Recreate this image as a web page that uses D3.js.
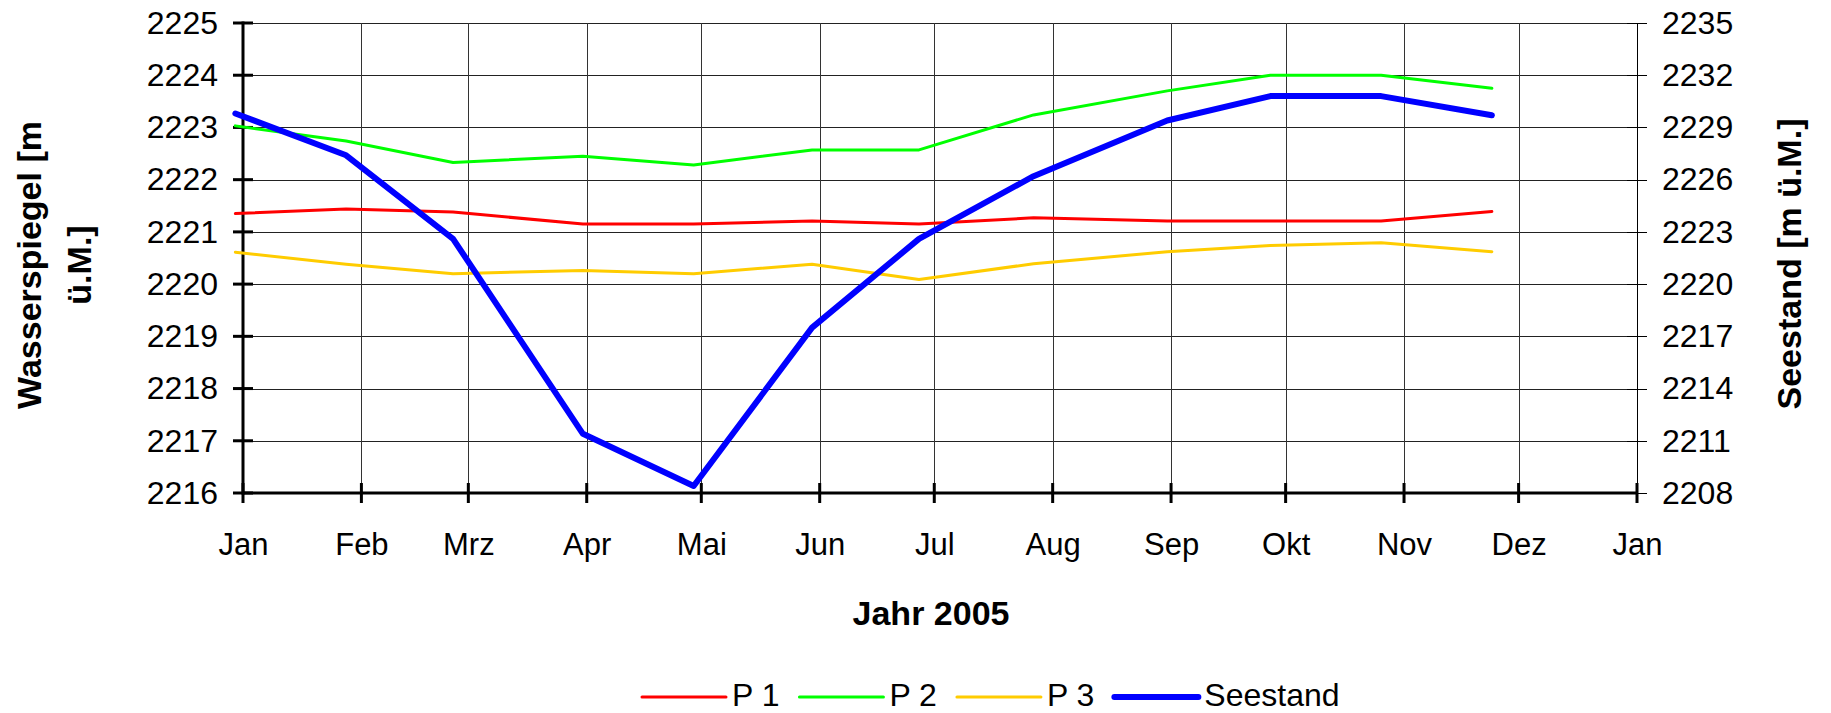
<!DOCTYPE html>
<html>
<head>
<meta charset="utf-8">
<script src="https://cdn.jsdelivr.net/npm/d3@7"></script>
<style>
  body { margin: 0; background: #fff; }
  svg { display: block; font-family: "Liberation Sans", Arial, sans-serif; }
</style>
</head>
<body>
<svg id="svg" width="1831" height="713"></svg>
<script>
// Messdaten 2005
const dates = ['2004-12-30', '2005-01-28', '2005-02-25', '2005-03-31', '2005-04-29', '2005-05-30',
  '2005-06-27', '2005-07-27', '2005-08-31', '2005-09-27', '2005-10-26', '2005-11-24'];
const p1 = [2221.35, 2221.44, 2221.38, 2221.15, 2221.15, 2221.21, 2221.15, 2221.27, 2221.21, 2221.21, 2221.21, 2221.39];
const p2 = [2223.03, 2222.74, 2222.33, 2222.45, 2222.28, 2222.57, 2222.57, 2223.24, 2223.7, 2224.0, 2224.0, 2223.75];
const p3 = [2220.61, 2220.38, 2220.2, 2220.26, 2220.2, 2220.38, 2220.09, 2220.39, 2220.62, 2220.74, 2220.79, 2220.62];
const seestand = [2229.8, 2227.4, 2222.6, 2211.4, 2208.4, 2217.5, 2222.6, 2226.2, 2229.4, 2230.8, 2230.8, 2229.7];

const monthNames = ['Jan', 'Feb', 'Mrz', 'Apr', 'Mai', 'Jun', 'Jul', 'Aug', 'Sep', 'Okt', 'Nov', 'Dez'];
const leftTicks = [2216, 2217, 2218, 2219, 2220, 2221, 2222, 2223, 2224, 2225];
const rightTicks = [2208, 2211, 2214, 2217, 2220, 2223, 2226, 2229, 2232, 2235];

const series = [
  { name: 'P 1', values: p1, color: '#ff0000', width: 3, axis: 'left' },
  { name: 'P 2', values: p2, color: '#00ff00', width: 3, axis: 'left' },
  { name: 'P 3', values: p3, color: '#ffcc00', width: 3, axis: 'left' },
  { name: 'Seestand', values: seestand, color: '#0000ff', width: 6, axis: 'right' },
];

const plotL = 243, plotR = 1637, plotT = 23, plotB = 493;

const svg = d3.select('#svg');
const parse = d3.utcParse('%Y-%m-%d');

const x = d3.scaleUtc()
  .domain([Date.UTC(2005, 0, 1), Date.UTC(2006, 0, 1)])
  .range([plotL, plotR]);
const yL = d3.scaleLinear().domain([2216, 2225]).range([plotB, plotT]);
const yR = d3.scaleLinear().domain([2208, 2235]).range([plotB, plotT]);

const monthTicks = d3.utcMonth.range(Date.UTC(2005, 0, 1), Date.UTC(2006, 0, 2));

// gridlines
svg.append('g')
  .selectAll('line')
  .data(leftTicks)
  .join('line')
  .attr('x1', plotL).attr('x2', plotR)
  .attr('y1', d => Math.round(yL(d)) + 0.5).attr('y2', d => Math.round(yL(d)) + 0.5)
  .attr('stroke', '#222').attr('stroke-width', 1);

svg.append('g')
  .selectAll('line')
  .data(monthTicks)
  .join('line')
  .attr('x1', d => Math.round(x(d)) + 0.5).attr('x2', d => Math.round(x(d)) + 0.5)
  .attr('y1', plotT).attr('y2', plotB)
  .attr('stroke', '#333').attr('stroke-width', 1);

// axes
const axisLeft = d3.axisLeft(yL).tickValues(leftTicks).tickSize(0).tickPadding(25).tickFormat(d3.format('d'));
const gL = svg.append('g').attr('transform', `translate(${plotL},0)`).call(axisLeft);
gL.select('.domain').remove();
gL.selectAll('text').attr('font-size', 32).attr('fill', '#000').attr('font-family', null);

const axisRight = d3.axisRight(yR).tickValues(rightTicks).tickSize(0).tickPadding(25).tickFormat(d3.format('d'));
const gR = svg.append('g').attr('transform', `translate(${plotR},0)`).call(axisRight);
gR.select('.domain').remove();
gR.selectAll('text').attr('font-size', 32).attr('fill', '#000').attr('font-family', null);

const axisBottom = d3.axisBottom(x).tickValues(monthTicks).tickSize(0).tickPadding(40)
  .tickFormat(d => monthNames[d.getUTCMonth()]);
const gB = svg.append('g').attr('transform', `translate(0,${plotB})`).call(axisBottom);
gB.select('.domain').remove();
gB.selectAll('text').attr('font-size', 31).attr('fill', '#000').attr('font-family', null);

// axis lines and crossing ticks
svg.append('line').attr('x1', plotR + 0.5).attr('x2', plotR + 0.5).attr('y1', plotT).attr('y2', plotB)
  .attr('stroke', '#000').attr('stroke-width', 1);
svg.append('g').selectAll('line').data(rightTicks).join('line')
  .attr('x1', plotR - 10).attr('x2', plotR + 10)
  .attr('y1', d => Math.round(yR(d)) + 0.5).attr('y2', d => Math.round(yR(d)) + 0.5)
  .attr('stroke', '#000').attr('stroke-width', 1);

svg.append('g').selectAll('line').data(leftTicks).join('line')
  .attr('x1', plotL - 10).attr('x2', plotL + 10)
  .attr('y1', d => yL(d)).attr('y2', d => yL(d))
  .attr('stroke', '#000').attr('stroke-width', 3);
svg.append('g').selectAll('line').data(monthTicks).join('line')
  .attr('x1', d => x(d)).attr('x2', d => x(d))
  .attr('y1', plotB - 10).attr('y2', plotB + 10)
  .attr('stroke', '#000').attr('stroke-width', 3);

svg.append('line').attr('x1', plotL).attr('x2', plotL).attr('y1', plotT - 1.5).attr('y2', plotB + 1.5)
  .attr('stroke', '#000').attr('stroke-width', 3);
svg.append('line').attr('x1', plotL).attr('x2', plotR).attr('y1', plotB).attr('y2', plotB)
  .attr('stroke', '#000').attr('stroke-width', 3);

// lines
series.forEach(s => {
  const y = s.axis === 'left' ? yL : yR;
  const line = d3.line()
    .x((d, i) => x(parse(dates[i])))
    .y(d => y(d));
  svg.append('path')
    .datum(s.values)
    .attr('d', line)
    .attr('fill', 'none')
    .attr('stroke', s.color)
    .attr('stroke-width', s.width)
    .attr('stroke-linejoin', 'round')
    .attr('stroke-linecap', 'round');
});

// axis titles
const yTitle = svg.append('text')
  .attr('transform', 'translate(41,265) rotate(-90)')
  .attr('text-anchor', 'middle')
  .attr('font-size', 34).attr('font-weight', 'bold');
yTitle.append('tspan').attr('x', 0).attr('y', 0).text('Wasserspiegel [m');
yTitle.append('tspan').attr('x', 0).attr('y', 50).text('ü.M.]');

svg.append('text')
  .attr('transform', 'translate(1801,264) rotate(-90)')
  .attr('text-anchor', 'middle')
  .attr('font-size', 34).attr('font-weight', 'bold')
  .text('Seestand [m ü.M.]');

svg.append('text')
  .attr('x', 931).attr('y', 625)
  .attr('text-anchor', 'middle')
  .attr('font-size', 34).attr('font-weight', 'bold')
  .text('Jahr 2005');

// legend
let lx = 642;
const legend = svg.append('g');
series.forEach(s => {
  legend.append('line')
    .attr('x1', lx).attr('x2', lx + 84).attr('y1', 697).attr('y2', 697)
    .attr('stroke', s.color).attr('stroke-width', s.width).attr('stroke-linecap', 'round');
  const t = legend.append('text')
    .attr('x', lx + 90).attr('y', 706)
    .attr('font-size', 32)
    .text(s.name);
  lx += 90 + t.node().getComputedTextLength() + 20;
});
</script>
</body>
</html>
